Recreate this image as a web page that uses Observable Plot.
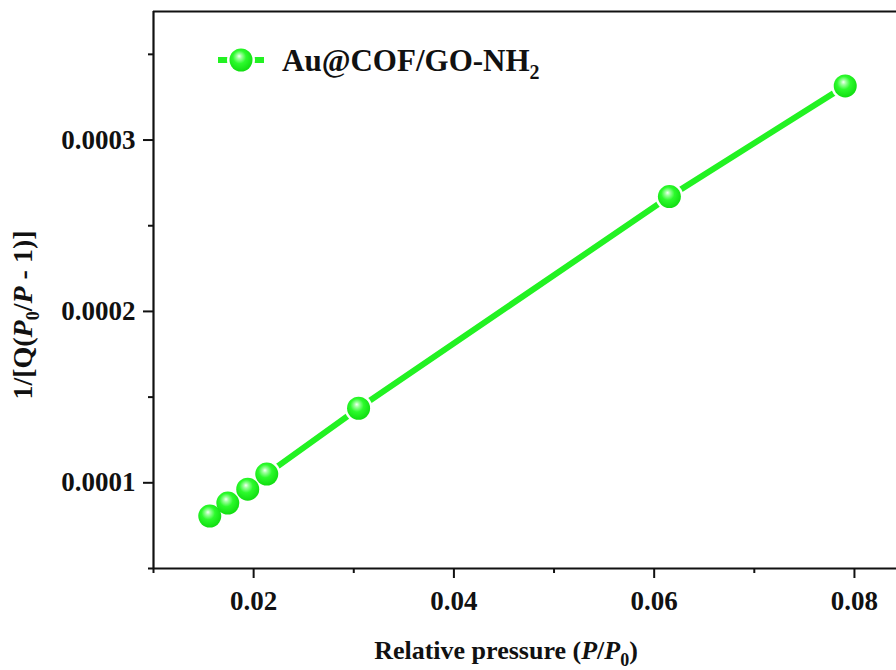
<!DOCTYPE html>
<html>
<head>
<meta charset="utf-8">
<script src="https://cdn.jsdelivr.net/npm/d3@7"></script>
<script src="https://cdn.jsdelivr.net/npm/@observablehq/plot@0.6"></script>
<style>
  html, body { margin: 0; padding: 0; background: #fff; }
  #chart svg { display: block; }
</style>
</head>
<body>
<div id="chart"></div>
<script>
// BET linear plot: relative pressure vs 1/[Q(P0/P - 1)]
const seriesName = "Au@COF/GO-NH";
const relPressure = [0.01562, 0.01742, 0.01941, 0.02131, 0.03048, 0.06152, 0.07908];
const betValue    = [0.0000806, 0.0000882, 0.0000963, 0.0001051, 0.0001435, 0.000267, 0.0003316];

const xMajor = [0.02, 0.04, 0.06, 0.08];
const xMinor = [0.01, 0.03, 0.05, 0.07];
const yMajor = [0.0001, 0.0002, 0.0003];
const yMinor = [0.00005, 0.00015, 0.00025, 0.00035];
const xDomain = [0.01, 0.0842];
const yDomain = [0.00005, 0.000375];

const data = relPressure.map((x, i) => ({x, y: betValue[i]}));

const green = "#22f222";
const font = "'Liberation Serif', 'Times New Roman', serif";

const chart = Plot.plot({
  width: 896,
  height: 670,
  marginLeft: 153,
  marginRight: 0,
  marginTop: 11,
  marginBottom: 102,
  style: {fontFamily: font, fontSize: "27px", fontWeight: "bold", color: "#111", background: "#fff"},
  x: {domain: xDomain},
  y: {domain: yDomain},
  marks: [
    Plot.axisX({ticks: xMajor, tickSize: 10, tickPadding: 12, strokeWidth: 2, tickFormat: d3.format(".2f"), label: null}),
    Plot.axisX({ticks: xMinor, tickSize: 5, strokeWidth: 2, text: null, label: null}),
    Plot.axisY({ticks: yMajor, tickSize: 10, tickPadding: 8, strokeWidth: 2, tickFormat: d3.format(".4f"), label: null}),
    Plot.axisY({ticks: yMinor, tickSize: 5, strokeWidth: 2, text: null, label: null}),
    Plot.ruleX([xDomain[0]], {strokeWidth: 2.2, stroke: "#111"}),
    Plot.ruleY(yDomain, {strokeWidth: 2.2, stroke: "#111"}),
    Plot.line(data, {x: "x", y: "y", stroke: green, strokeWidth: 6}),
    Plot.dot(data, {x: "x", y: "y", r: 14, fill: "#fff", stroke: "none"}),
    Plot.dot(data, {x: "x", y: "y", r: 11.5, fill: "url(#sphere)", stroke: "none"})
  ]
});

document.getElementById("chart").appendChild(chart);

const svg = d3.select(chart);

// glossy sphere fill for the markers
const grad = svg.insert("defs", ":first-child").append("radialGradient")
  .attr("id", "sphere").attr("cx", "45%").attr("cy", "42%").attr("r", "60%")
  .attr("fx", "42%").attr("fy", "33%");
grad.append("stop").attr("offset", "0%").attr("stop-color", "#f4fff4");
grad.append("stop").attr("offset", "18%").attr("stop-color", "#9cff9c");
grad.append("stop").attr("offset", "48%").attr("stop-color", "#2cfb2c");
grad.append("stop").attr("offset", "100%").attr("stop-color", "#10dc10");

// x-axis title
const xt = svg.append("text")
  .attr("x", 506).attr("y", 659)
  .attr("text-anchor", "middle")
  .style("font-family", font).style("font-size", "26px").style("font-weight", "bold");
xt.append("tspan").text("Relative pressure (");
xt.append("tspan").style("font-style", "italic").text("P");
xt.append("tspan").text("/");
xt.append("tspan").style("font-style", "italic").text("P");
xt.append("tspan").attr("dy", 7).style("font-size", "18px").text("0");
xt.append("tspan").attr("dy", -7).text(")");

// y-axis title
const yt = svg.append("text")
  .attr("transform", "translate(32,315) rotate(-90)")
  .attr("text-anchor", "middle")
  .style("font-family", font).style("font-size", "28px").style("font-weight", "bold");
yt.append("tspan").text("1/[Q(");
yt.append("tspan").style("font-style", "italic").text("P");
yt.append("tspan").attr("dy", 7).style("font-size", "18px").text("0");
yt.append("tspan").attr("dy", -7).text("/");
yt.append("tspan").style("font-style", "italic").text("P");
yt.append("tspan").text(" - 1)]");

// legend
const lg = svg.append("g").attr("transform", "translate(218,60)");
lg.append("line").attr("x1", 0).attr("x2", 46).attr("y1", 0).attr("y2", 0)
  .attr("stroke", green).attr("stroke-width", 6);
lg.append("circle").attr("cx", 23).attr("cy", 0).attr("r", 14).attr("fill", "#fff");
lg.append("circle").attr("cx", 23).attr("cy", 0).attr("r", 11.5).attr("fill", "url(#sphere)");
const lt = lg.append("text").attr("x", 64).attr("y", 11).attr("text-anchor", "start")
  .style("font-family", font).style("font-size", "31px").style("font-weight", "bold").attr("fill", "#111");
lt.append("tspan").text(seriesName);
lt.append("tspan").attr("dy", 8).style("font-size", "20px").text("2");
</script>
</body>
</html>
